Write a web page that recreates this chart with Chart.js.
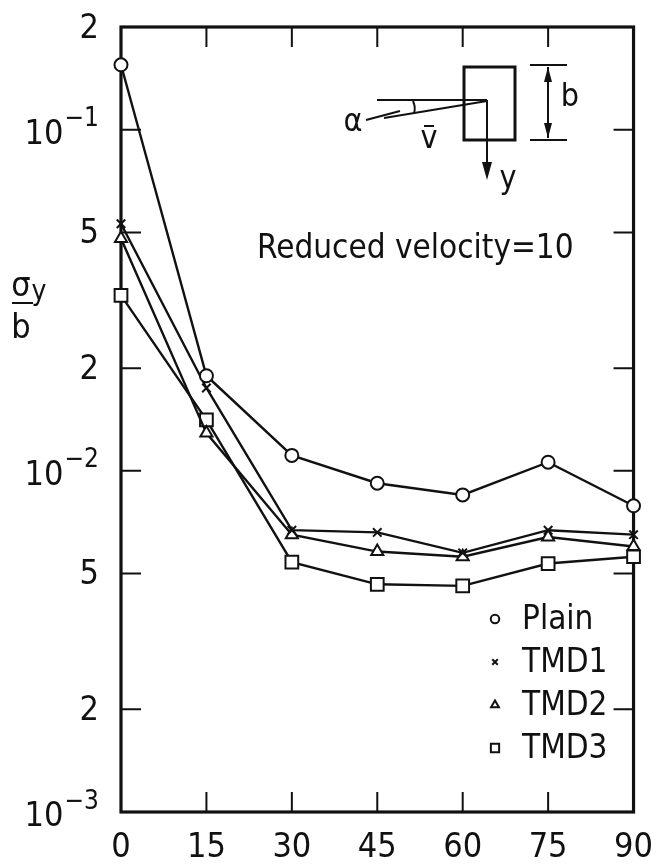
<!DOCTYPE html>
<html><head><meta charset="utf-8">
<script src="https://cdn.jsdelivr.net/npm/chart.js@4.4.1/dist/chart.umd.min.js"></script>
<style>html,body{margin:0;padding:0;background:#fff;}canvas{display:block;}</style>
</head><body>
<canvas id="c" width="669" height="868"></canvas>
<script>
const angles = [0, 15, 30, 45, 60, 75, 90];
const plain = [0.155, 0.019, 0.0111, 0.0092, 0.0085, 0.0106, 0.0079];
const tmd1  = [0.053, 0.0175, 0.0067, 0.0066, 0.00575, 0.0067, 0.0065];
const tmd2  = [0.048, 0.0129, 0.0065, 0.0058, 0.0056, 0.0064, 0.0060];
const tmd3  = [0.0327, 0.0141, 0.0054, 0.00465, 0.0046, 0.00535, 0.0056];
const seriesNames = ['Plain', 'TMD1', 'TMD2', 'TMD3'];
const xTicks = [0, 15, 30, 45, 60, 75, 90];
const yTicks = [0.001, 0.002, 0.005, 0.01, 0.02, 0.05, 0.1, 0.2];
const yTickLabels = ['10^-3', '2', '5', '10^-2', '2', '5', '10^-1', '2'];
const annotationText = 'Reduced velocity=10';

const FONT = "'DejaVu Sans Condensed','DejaVu Sans',sans-serif";
const INK = '#111';

function pts(arr){ return angles.map((a,i)=>({x:a,y:arr[i]})); }

function mk(label, data, style, r){
  return {label, data: pts(data), borderColor: INK, borderWidth: 2.4,
    pointStyle: style, pointRadius: r, pointBorderWidth: 2, pointBorderColor: INK,
    pointBackgroundColor: '#fff', backgroundColor:'#fff', fill:false, tension:0, clip:false};
}

function drawPow(ctx, txt, x, y, size){
  ctx.textBaseline = 'middle';
  if (txt.indexOf('^') < 0){
    ctx.font = size + 'px ' + FONT; ctx.textAlign='right'; ctx.fillText(txt, x, y); return;
  }
  const [base, exp] = txt.split('^');
  const expStr = exp.replace('-', '\u2212');
  ctx.font = Math.round(size*0.75) + 'px ' + FONT;
  const ew = ctx.measureText(expStr).width;
  ctx.textAlign='left';
  ctx.fillText(expStr, x - ew, y - size*0.36);
  ctx.font = size + 'px ' + FONT; ctx.textAlign='right';
  ctx.fillText(base, x - ew - 1, y + 3);
}

const decor = {
  id: 'decor',
  beforeDatasetsDraw(chart){
    const {ctx, chartArea:a, scales:{x, y}} = chart;
    ctx.save();
    ctx.strokeStyle = INK; ctx.lineWidth = 3.2;
    ctx.strokeRect(a.left, a.top, a.right - a.left, a.bottom - a.top);
    ctx.lineWidth = 2;
    const L = 20;
    ctx.beginPath();
    xTicks.forEach(v=>{ if (v===xTicks[0]||v===xTicks[xTicks.length-1]) return;
      const px = x.getPixelForValue(v);
      ctx.moveTo(px, a.bottom); ctx.lineTo(px, a.bottom - L);
      ctx.moveTo(px, a.top); ctx.lineTo(px, a.top + L);
    });
    yTicks.forEach(v=>{ if (v===yTicks[0]||v===yTicks[yTicks.length-1]) return;
      const py = y.getPixelForValue(v);
      ctx.moveTo(a.left, py); ctx.lineTo(a.left + L, py);
      ctx.moveTo(a.right, py); ctx.lineTo(a.right - L, py);
    });
    ctx.stroke();
    ctx.restore();
  },
  afterDraw(chart){
    const {ctx, chartArea:a, scales:{x, y}} = chart;
    ctx.save();
    ctx.fillStyle = INK; ctx.strokeStyle = INK;
    yTicks.forEach((v,i)=>{
      drawPow(ctx, yTickLabels[i], a.left - 22, y.getPixelForValue(v) + 2, 34);
    });
    ctx.textAlign='center'; ctx.textBaseline='alphabetic';
    ctx.font = '34px ' + FONT;
    ctx.fillText('\u03C3', 21, 296);
    ctx.font = '28px ' + FONT;
    ctx.fillText('y', 39, 300);
    ctx.lineWidth = 2;
    ctx.beginPath(); ctx.moveTo(12, 303); ctx.lineTo(33, 303); ctx.stroke();
    ctx.font = '34px ' + FONT;
    ctx.fillText('b', 21, 338);
    ctx.font = '33px ' + FONT; ctx.textAlign='left'; ctx.textBaseline='middle';
    ctx.fillText(annotationText, 257, 249);
    const ds = chart.data.datasets;
    ds.forEach((d,i)=>{
      const yy = 619 + i*43;
      ctx.lineWidth = 2;
      ctx.fillStyle = '#fff'; ctx.strokeStyle = INK;
      Chart.helpers.drawPoint(ctx, {pointStyle: d.pointStyle, radius: d.pointRadius*0.65, borderWidth:2}, 495, yy);
      ctx.fillStyle = INK;
      ctx.font = '33px ' + FONT; ctx.textAlign='left'; ctx.textBaseline='middle';
      ctx.fillText(seriesNames[i], 522, yy + 1);
    });
    ctx.lineWidth = 3;
    ctx.strokeRect(464, 67, 51, 73);
    ctx.lineWidth = 2;
    ctx.beginPath();
    ctx.moveTo(377, 100); ctx.lineTo(487, 100);
    ctx.moveTo(384, 118); ctx.lineTo(487, 101);
    ctx.moveTo(487, 100); ctx.lineTo(487, 165);
    ctx.moveTo(366, 120); ctx.lineTo(400, 111);
    ctx.moveTo(413, 101); ctx.quadraticCurveTo(416, 108, 414, 113);
    ctx.moveTo(530, 65); ctx.lineTo(567, 65);
    ctx.moveTo(530, 140); ctx.lineTo(567, 140);
    ctx.moveTo(548, 67); ctx.lineTo(548, 138);
    ctx.stroke();
    ctx.beginPath();
    ctx.moveTo(482, 162); ctx.lineTo(492, 162); ctx.lineTo(487, 180); ctx.closePath();
    ctx.moveTo(544, 82); ctx.lineTo(552, 82); ctx.lineTo(548, 67); ctx.closePath();
    ctx.moveTo(544, 123); ctx.lineTo(552, 123); ctx.lineTo(548, 138); ctx.closePath();
    ctx.fill();
    ctx.font = '32px ' + FONT; ctx.textBaseline='middle'; ctx.textAlign='center';
    ctx.fillText('\u03B1', 353, 123);
    ctx.fillText('v', 429, 140);
    ctx.beginPath(); ctx.moveTo(424, 126); ctx.lineTo(434, 126); ctx.stroke();
    ctx.fillText('y', 508, 180);
    ctx.fillText('b', 570, 98);
    ctx.restore();
  }
};

new Chart(document.getElementById('c'), {
  type: 'line',
  data: { datasets: [
    mk(seriesNames[0], plain, 'circle', 6.5),
    mk(seriesNames[1], tmd1, 'crossRot', 6),
    mk(seriesNames[2], tmd2, 'triangle', 7),
    mk(seriesNames[3], tmd3, 'rect', 9)
  ]},
  options: {
    responsive: false, animation: false, devicePixelRatio: 1,
    layout: { padding: { top: 27, right: 23, left: 0, bottom: 0 } },
    plugins: { legend: { display: false }, tooltip: { enabled: false } },
    scales: {
      x: { type: 'linear', min: 0, max: 90,
        afterBuildTicks: s => { s.ticks = xTicks.map(v=>({value:v})); },
        afterFit: s => { s.height = 56; },
        grid: { display: false, drawTicks: false },
        border: { display: false },
        ticks: { padding: 16, color: INK, font: { family: FONT, size: 34 } } },
      y: { type: 'logarithmic', min: 0.001, max: 0.2,
        afterBuildTicks: s => { s.ticks = yTicks.map(v=>({value:v})); },
        afterFit: s => { s.width = 121; },
        grid: { display: false, drawTicks: false },
        border: { display: false },
        ticks: { display: false } }
    }
  },
  plugins: [decor]
});
</script>
</body></html>
